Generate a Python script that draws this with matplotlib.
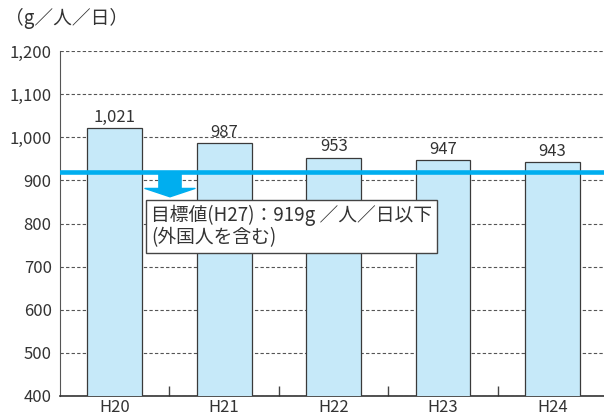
import matplotlib
matplotlib.use('Agg')
from matplotlib import pyplot as plt

plt.rcParams['font.family'] = ['Noto Sans CJK JP', 'DejaVu Sans']

years = ['H20', 'H21', 'H22', 'H23', 'H24']
amounts = [1021, 987, 953, 947, 943]
value_labels = ['1,021', '987', '953', '947', '943']
target = 919
yticks = [400, 500, 600, 700, 800, 900, 1000, 1100, 1200]
ytick_labels = ['400', '500', '600', '700', '800', '900', '1,000', '1,100', '1,200']

fig = plt.figure(figsize=(6.04, 4.19), dpi=100)
ax = fig.add_axes([0.0993, 0.0549, 0.9007, 0.8233])

x = range(len(years))
ax.bar(x, amounts, width=0.5, color='#c6e9f9', edgecolor='#3a3a3a', linewidth=0.9, zorder=3)
for xi, v, lab in zip(x, amounts, value_labels):
    ax.text(xi, v + 5, lab, ha='center', va='bottom', fontsize=12, color='#333333')

ax.set_ylim(400, 1200)
ax.set_xlim(-0.5, 4.47)
ax.set_yticks(yticks)
ax.set_yticklabels(ytick_labels)
ax.set_xticks(list(x))
ax.set_xticklabels(years)
ax.set_xticks([0.5, 1.5, 2.5, 3.5], minor=True)
ax.tick_params(axis='y', length=0, labelsize=12, labelcolor='#333333', pad=6)
ax.tick_params(axis='x', which='major', length=0, labelsize=12, labelcolor='#333333', pad=2)
ax.tick_params(axis='x', which='minor', direction='in', length=7, width=1, color='#444444')

ax.grid(axis='y', linestyle=(0, (3, 2)), color='#555555', linewidth=0.8, zorder=1)
ax.spines['top'].set_visible(False)
ax.spines['right'].set_visible(False)
ax.spines['left'].set_color('#555555')
ax.spines['bottom'].set_color('#333333')
ax.spines['bottom'].set_linewidth(1.2)

# target line
ax.axhline(target, color='#00aeef', linewidth=3.3, zorder=4)
ax.annotate('', xy=(0.505, 862), xytext=(0.505, target),
            arrowprops=dict(arrowstyle='simple,head_width=1.8,head_length=0.3,tail_width=0.8',
                            color='#00aeef', shrinkA=0, shrinkB=0, mutation_scale=20),
            zorder=4)
ax.text(0.33, 843, '目標値(H27)：919g ／人／日以下\n(外国人を含む)', ha='left', va='top',
        fontsize=13.5, color='#333333', linespacing=1.05, zorder=5,
        bbox=dict(boxstyle='square,pad=0.25', facecolor='white', edgecolor='#444444', linewidth=1))

fig.text(0.008, 0.955, '（g／人／日）', ha='left', va='center', fontsize=13.5, color='#333333')

fig.savefig('out.png', dpi=100)
